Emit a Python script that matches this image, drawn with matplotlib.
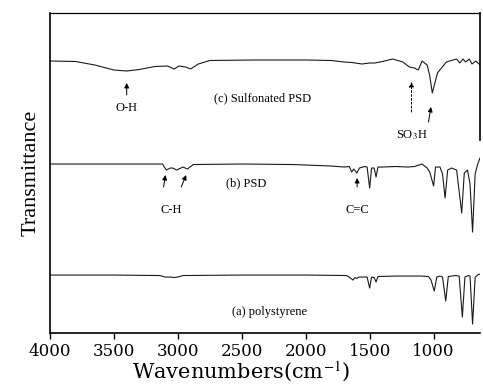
import numpy as np
import matplotlib.pyplot as plt

plt.rcParams['mathtext.fontset'] = 'stix'

# (a) polystyrene: wavenumber (cm-1) and relative transmittance
wn_a = [4000, 3500, 3140, 3100, 3060, 3030, 3000, 2960, 2500, 2000, 1680,
        1650, 1630, 1615, 1600, 1585, 1520, 1500, 1485, 1465, 1450, 1435,
        1300, 1100, 1040, 1020, 995, 975, 950, 930, 905, 885, 830, 800,
        775, 755, 730, 715, 695, 675, 650, 630]
t_a = [100, 100, 99.5, 98, 98, 97.5, 98, 99.5, 100, 100, 99.5,
       97, 95, 97.5, 96.5, 98, 98, 87, 98, 97.5, 93, 98.5,
       99, 99, 98.5, 95, 84, 98, 99, 98, 74, 98.5, 99.5, 99,
       58, 98, 99.5, 99, 51, 98, 100.5, 101]

# (b) PSD
wn_b = [4000, 3500, 3120, 3090, 3060, 3040, 3010, 2960, 2925, 2880, 2500,
        2100, 1800, 1700, 1660, 1640, 1625, 1600, 1580, 1540, 1520, 1500,
        1485, 1465, 1450, 1435, 1400, 1300, 1200, 1150, 1090, 1050, 1030,
        1000, 985, 950, 930, 910, 890, 860, 820, 780, 760, 735, 715, 695,
        675, 655, 637]
t_b = [100, 100, 100, 94, 96, 96, 94, 97, 95, 99.5, 100,
       99.5, 98, 97, 97.5, 92, 95, 91, 96, 97.5, 97, 76,
       96, 96, 87, 97, 97, 97.5, 97, 97.5, 100, 96, 92,
       78, 97, 97, 90, 66, 94, 96, 94, 51, 91, 94, 80, 32,
       90, 100, 106]

# (c) sulfonated PSD
wn_c = [4000, 3800, 3650, 3500, 3400, 3300, 3180, 3080, 3030, 2990, 2940,
        2900, 2840, 2750, 2400, 2000, 1800, 1700, 1640, 1560, 1500, 1460,
        1400, 1320, 1240, 1190, 1150, 1120, 1090, 1050, 1030, 1010, 990,
        970, 900, 820, 795, 770, 750, 720, 700, 670, 637]
t_c = [100, 99.5, 96, 91, 90, 91.5, 94.5, 95, 92, 95, 94,
       92, 97, 100.5, 101, 101, 100.5, 99, 98.5, 97, 98, 98,
       99.5, 102, 99, 94, 93, 91, 100, 96, 85, 68, 78,
       88, 99, 102, 98, 102, 99, 102, 97, 100, 96]

# vertical offsets used to stack the three spectra
offsets = {'a': -42, 'b': 69, 'c': 172}

fig = plt.figure(figsize=(4.83, 3.9), dpi=100)
ax = fig.add_axes([0.1035, 0.146, 0.8903, 0.8207])

for wn, t, key in [(wn_a, t_a, 'a'), (wn_b, t_b, 'b'), (wn_c, t_c, 'c')]:
    ax.plot(wn, np.array(t) + offsets[key], color='#1a1a1a', lw=0.8)

ax.set_xlim(4000, 637)
ax.set_ylim(0, 320)
ax.set_xticks([4000, 3500, 3000, 2500, 2000, 1500, 1000])
ax.set_yticks([])
ax.tick_params(axis='x', direction='out', length=4, width=1.0, pad=3.5,
               labelsize=12)
for lab in ax.get_xticklabels():
    lab.set_fontfamily('DejaVu Serif')
for s in ax.spines.values():
    s.set_linewidth(1.2)
ax.spines['top'].set_linewidth(0.9)
ax.spines['right'].set_bounds(193, 320)

ax.set_xlabel('Wavenumbers(cm$^{-1}$)', family='DejaVu Serif', fontsize=15)
ax.xaxis.set_label_coords(0.444, -0.083)
ax.set_ylabel('Transmittance', family='Liberation Serif', fontsize=16,
              labelpad=7)

txt = dict(family='Liberation Serif', fontsize=9, ha='center', va='center')
arrow = dict(arrowstyle='-|>', lw=0.7, color='k', mutation_scale=7,
             shrinkA=0, shrinkB=0)

# band labels
ax.text(2337, 235, '(c) Sulfonated PSD', **txt)
ax.text(2465, 150, '(b) PSD', **txt)
ax.text(2282, 21, '(a) polystyrene', **txt)

ax.text(3400, 225, 'O-H', **txt)
ax.annotate('', xy=(3400, 250), xytext=(3400, 238), arrowprops=arrow)

ax.text(1173, 198, 'SO$_3$H', **txt)
ax.annotate('', xy=(1173, 251), xytext=(1173, 221),
            arrowprops=dict(arrow, linestyle=(0, (2, 2))))
ax.annotate('', xy=(1020, 226), xytext=(1040, 211), arrowprops=arrow)

ax.text(3052, 123, 'C-H', **txt)
ax.annotate('', xy=(3097, 158), xytext=(3112, 146), arrowprops=arrow)
ax.annotate('', xy=(2935, 158), xytext=(2974, 146), arrowprops=arrow)

ax.text(1593, 123, 'C=C', **txt)
ax.annotate('', xy=(1598, 155), xytext=(1598, 146), arrowprops=arrow)

fig.savefig('out.png', dpi=100)
